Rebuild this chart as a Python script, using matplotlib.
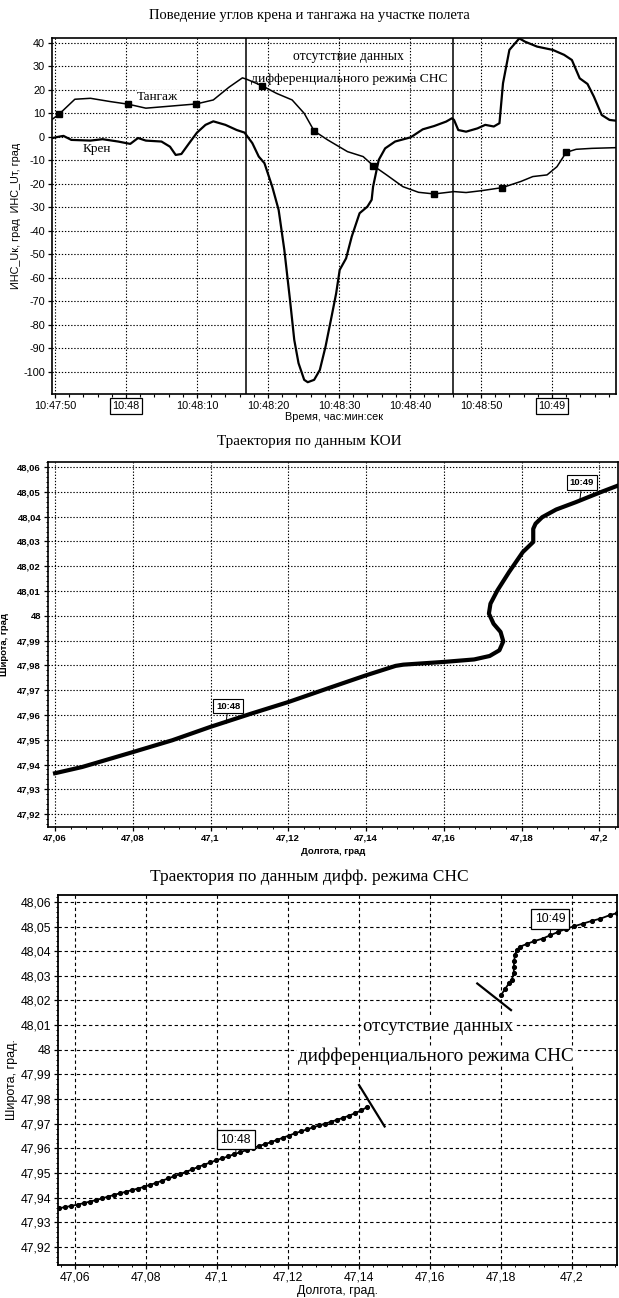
import matplotlib
matplotlib.use("Agg")
import matplotlib.pyplot as plt
from matplotlib.ticker import MultipleLocator

plt.rcParams["axes.unicode_minus"] = False
SANS = ["Liberation Sans", "DejaVu Sans"]
SERIF = ["Liberation Serif", "DejaVu Serif"]
NARROW = ["Liberation Sans Narrow", "Liberation Sans", "DejaVu Sans"]

# ---- roll / pitch, time in seconds after 10:47:50 ----
pitch_t = [-0.5, 0.6, 2.8, 5.0, 7.8, 10.3, 12.8, 15.6, 19.9, 22.3, 24.5, 26.4,
           27.0, 29.2, 31.2, 33.4, 35.1, 36.5, 38.4, 41.2, 43.4, 44.8, 46.7,
           49.0, 51.2, 53.4, 56.2, 57.9, 60.1, 63.0, 65.6, 67.3, 69.3, 70.7,
           72.0, 73.4, 75.6, 79.0]
pitch_v = [7.1, 9.6, 15.9, 16.3, 14.9, 13.8, 12.1, 12.8, 13.9, 15.6, 21.0, 25.0,
           24.4, 21.6, 18.4, 15.6, 9.9, 2.4, -1.4, -6.4, -8.5, -12.3, -16.3,
           -21.3, -23.7, -24.4, -23.4, -23.8, -23.0, -21.7, -19.1, -17.0, -16.3,
           -12.8, -6.7, -5.4, -5.0, -4.7]
pitch_mark_t = [0.6, 10.3, 19.9, 29.2, 36.5, 44.8, 53.4, 63.0, 72.0]
pitch_mark_v = [9.6, 13.8, 13.9, 21.6, 2.4, -12.3, -24.4, -21.7, -6.7]

roll_t = [-0.5, 0.6, 1.2, 2.3, 5.0, 6.7, 8.9, 10.6, 11.7, 12.8, 15.0, 16.2,
          17.0, 17.8, 18.9, 20.0, 21.2, 22.3, 24.0, 25.6, 26.7, 27.8, 28.7,
          29.5, 30.6, 31.5, 31.7, 32.3, 33.1, 33.7, 34.3, 35.1, 35.6, 36.5,
          37.3, 38.1, 39.0, 39.6, 40.1, 41.0, 41.8, 42.9, 44.0, 44.6, 44.8,
          45.6, 46.5, 47.9, 50.1, 51.8, 53.4, 55.1, 55.9, 56.2, 56.8, 57.9,
          59.5, 60.6, 61.8, 62.6, 63.1, 64.0, 65.4, 66.2, 67.9, 70.1, 71.7,
          72.8, 73.9, 75.0, 75.9, 77.0, 78.1, 79.2]
roll_v = [-0.7, 0.0, 0.3, -1.4, -1.7, -1.1, -2.1, -3.1, -0.6, -1.7, -2.1, -4.3,
          -7.8, -7.4, -2.8, 1.7, 5.0, 6.5, 5.0, 2.8, 1.7, -2.8, -8.5,
          -11.3, -21.3, -31.2, -35.4, -48.2, -69.5, -86.5, -96.4, -103.5, -104.5, -103.5,
          -99.3, -89.4, -75.9, -66.7, -56.7, -51.8, -42.5, -32.6, -29.8, -26.9, -21.3,
          -9.9, -5.0, -2.1, -0.3, 3.1, 4.5, 6.4, 7.8, 7.1, 2.8, 2.1,
          3.5, 5.0, 4.3, 5.7, 22.7, 36.9, 41.8, 40.4, 38.3, 36.9, 34.8,
          32.6, 24.8, 22.4, 17.0, 9.2, 7.1, 6.7]

time_ticks = [0, 10, 20, 30, 40, 50, 60, 70]
time_labels = ["10:47:50", "10:48", "10:48:10", "10:48:20",
               "10:48:30", "10:48:40", "10:48:50", "10:49"]
boxed_labels = ["10:48", "10:49"]
gap_bounds = [26.9, 56.1]
angle_ticks = [40, 30, 20, 10, 0, -10, -20, -30, -40, -50, -60, -70, -80, -90, -100]

# ---- trajectory from KOI ----
koi_lon = [47.0595, 47.0670, 47.0800, 47.0902, 47.1000, 47.1104, 47.1200,
           47.1305, 47.1400, 47.1476, 47.1496, 47.1600, 47.1678, 47.1718,
           47.1743, 47.1753, 47.1746, 47.1728, 47.1716, 47.1720, 47.1738,
           47.1768, 47.1803, 47.1830, 47.1830, 47.1836, 47.1853, 47.1889,
           47.1940, 47.2000, 47.2050]
koi_lat = [47.9363, 47.9390, 47.9450, 47.9498, 47.9552, 47.9605, 47.9652,
           47.9709, 47.9760, 47.9798, 47.9803, 47.9814, 47.9824, 47.9838,
           47.9861, 47.9897, 47.9935, 47.9968, 48.0009, 48.0049, 48.0103,
           48.0177, 48.0257, 48.0298, 48.0351, 48.0372, 48.0398, 48.0429,
           48.0459, 48.0497, 48.0527]

# ---- trajectory from differential GNSS (two pieces around the outage) ----
dgps1_lon = [47.0556, 47.0573, 47.0590, 47.0607, 47.0624, 47.0641, 47.0658,
             47.0675, 47.0692, 47.0709, 47.0726, 47.0743, 47.0760, 47.0777,
             47.0794, 47.0811, 47.0828, 47.0845, 47.0862, 47.0879, 47.0896,
             47.0913, 47.0930, 47.0947, 47.0964, 47.0981, 47.0998, 47.1015,
             47.1032, 47.1049, 47.1066, 47.1083, 47.1100, 47.1117, 47.1134,
             47.1151, 47.1168, 47.1185, 47.1202, 47.1219, 47.1236, 47.1253,
             47.1270, 47.1287, 47.1304, 47.1321, 47.1338, 47.1355, 47.1372,
             47.1389, 47.1406, 47.1423]
dgps1_lat = [47.9358, 47.9362, 47.9367, 47.9372, 47.9378, 47.9384, 47.9390,
             47.9397, 47.9404, 47.9411, 47.9418, 47.9424, 47.9431, 47.9437,
             47.9444, 47.9452, 47.9460, 47.9469, 47.9478, 47.9487, 47.9496,
             47.9505, 47.9515, 47.9525, 47.9534, 47.9543, 47.9552, 47.9560,
             47.9568, 47.9577, 47.9585, 47.9593, 47.9601, 47.9609, 47.9617,
             47.9625, 47.9634, 47.9643, 47.9652, 47.9661, 47.9669, 47.9677,
             47.9685, 47.9693, 47.9700, 47.9708, 47.9716, 47.9724, 47.9733,
             47.9743, 47.9754, 47.9768]
dgps2_lon = [47.1800, 47.1811, 47.1822, 47.1830, 47.1836, 47.1836, 47.1837,
             47.1839, 47.1844, 47.1853, 47.1872, 47.1894, 47.1917, 47.1939,
             47.1961, 47.1983, 47.2006, 47.2031, 47.2056, 47.2080, 47.2106,
             47.2128]
dgps2_lat = [48.0222, 48.0246, 48.0269, 48.0285, 48.0310, 48.0337, 48.0361,
             48.0384, 48.0404, 48.0418, 48.0429, 48.0441, 48.0451, 48.0465,
             48.0478, 48.0491, 48.0501, 48.0512, 48.0523, 48.0532, 48.0546,
             48.0555]
break1_lon = [47.1400, 47.1472]
break1_lat = [47.9857, 47.9689]
break2_lon = [47.1733, 47.1828]
break2_lat = [48.0269, 48.0161]

lat_ticks = [48.06, 48.05, 48.04, 48.03, 48.02, 48.01, 48.00,
             47.99, 47.98, 47.97, 47.96, 47.95, 47.94, 47.93, 47.92]
lat_labels = ["48,06", "48,05", "48,04", "48,03", "48,02", "48,01", "48",
              "47,99", "47,98", "47,97", "47,96", "47,95", "47,94", "47,93", "47,92"]
lon_ticks = [47.06, 47.08, 47.10, 47.12, 47.14, 47.16, 47.18, 47.20]
lon_labels = ["47,06", "47,08", "47,1", "47,12", "47,14", "47,16", "47,18", "47,2"]

fig = plt.figure(figsize=(6.19, 12.98), dpi=100)

# ================= roll and pitch =================
ax1 = fig.add_axes([0.084, 0.6965, 0.911, 0.2743])
ax1.plot(roll_t, roll_v, color="black", lw=1.6)
ax1.plot(pitch_t, pitch_v, color="black", lw=1.1)
ax1.plot(pitch_mark_t, pitch_mark_v, "s", color="black", ms=5)
for t in gap_bounds:
    ax1.axvline(t, color="black", lw=1.1)
ax1.set_xlim(-0.42, 79.0)
ax1.set_ylim(-109.5, 42)
ax1.set_xticks(time_ticks)
ax1.set_xticklabels(time_labels, fontsize=7.8, family=SANS)
ax1.xaxis.set_minor_locator(MultipleLocator(2))
ax1.set_yticks(angle_ticks)
ax1.set_yticklabels([str(v) for v in angle_ticks], fontsize=7.8, family=SANS)
for lbl in ax1.get_xticklabels():
    if lbl.get_text() in boxed_labels:
        lbl.set_bbox(dict(boxstyle="square,pad=0.25", fc="white", ec="black", lw=0.9))
ax1.tick_params(axis="both", which="major", direction="out", length=3, width=0.9, pad=2)
ax1.tick_params(axis="x", which="minor", direction="out", length=2, width=0.8)
ax1.grid(True, which="major", color="black", linestyle=(0, (1.2, 1.6)), linewidth=0.8)
for sp in ax1.spines.values():
    sp.set_linewidth(1.2)
ax1.set_xlabel("Время, час:мин:сек", fontsize=7.8, family=SANS, labelpad=1)
ax1.set_ylabel("ИНС_Uк, град  ИНС_Uт, град", fontsize=7.8, family=SANS, labelpad=2)
ax1.text(41.4, 34.0, "отсутствие данных", family=SERIF, fontsize=9.8,
         ha="center", va="center")
ax1.text(41.4, 24.5, "дифференциального режима СНС", family=SERIF, fontsize=9.7,
         ha="center", va="center")
ax1.text(14.5, 17.0, "Тангаж", family=SERIF, fontsize=9.5, ha="center", va="center",
         bbox=dict(fc="white", ec="none", pad=0.5))
ax1.text(5.9, -5.2, "Крен", family=SERIF, fontsize=9.5, ha="center", va="center",
         bbox=dict(fc="white", ec="none", pad=0.5))
fig.text(0.5, 0.988, "Поведение углов крена и тангажа на участке полета",
         family=SERIF, fontsize=10.5, ha="center", va="center")

# ================= KOI trajectory =================
ax2 = fig.add_axes([0.0775, 0.3629, 0.9215, 0.2812])
ax2.plot(koi_lon, koi_lat, color="black", lw=3.0, solid_capstyle="butt")
ax2.set_xlim(47.0582, 47.2049)
ax2.set_ylim(47.9148, 48.0621)
ax2.set_xticks(lon_ticks)
ax2.set_xticklabels(lon_labels, fontsize=6.8, family=NARROW, fontweight="bold")
ax2.set_yticks(lat_ticks)
ax2.set_yticklabels(lat_labels, fontsize=6.8, family=NARROW, fontweight="bold")
ax2.xaxis.set_minor_locator(MultipleLocator(0.004))
ax2.yaxis.set_minor_locator(MultipleLocator(0.002))
ax2.tick_params(axis="both", which="major", direction="out", length=3, width=0.9, pad=2)
ax2.tick_params(axis="both", which="minor", direction="out", length=1.5, width=0.7)
ax2.grid(True, which="major", color="black", linestyle=(0, (1.2, 1.6)), linewidth=0.8)
for sp in ax2.spines.values():
    sp.set_linewidth(1.2)
ax2.set_xlabel("Долгота, град", fontsize=6.8, family=NARROW, fontweight="bold", labelpad=3)
ax2.set_ylabel("Широта, град", fontsize=6.8, family=NARROW, fontweight="bold", labelpad=6)
ax2.annotate("10:48", xy=(47.1040, 47.9565), xytext=(47.1045, 47.9636),
             fontsize=6.8, family=NARROW, fontweight="bold", ha="center", va="center",
             bbox=dict(boxstyle="square,pad=0.3", fc="white", ec="black", lw=0.8),
             arrowprops=dict(arrowstyle="-", lw=0.7, shrinkA=0, shrinkB=0))
ax2.annotate("10:49", xy=(47.1950, 48.0467), xytext=(47.1955, 48.0537),
             fontsize=6.8, family=NARROW, fontweight="bold", ha="center", va="center",
             bbox=dict(boxstyle="square,pad=0.3", fc="white", ec="black", lw=0.8),
             arrowprops=dict(arrowstyle="-", lw=0.7, shrinkA=0, shrinkB=0))
fig.text(0.5, 0.660, "Траектория по данным КОИ", family=SERIF, fontsize=11,
         ha="center", va="center")

# ================= differential GNSS trajectory =================
ax3 = fig.add_axes([0.0937, 0.0254, 0.9033, 0.2851])
ax3.plot(dgps1_lon, dgps1_lat, "o-", color="black", lw=1.3, ms=2.7)
ax3.plot(dgps2_lon, dgps2_lat, "o-", color="black", lw=1.3, ms=2.7)
ax3.plot(break1_lon, break1_lat, color="black", lw=1.6)
ax3.plot(break2_lon, break2_lat, color="black", lw=1.6)
ax3.set_xlim(47.0552, 47.2127)
ax3.set_ylim(47.9127, 48.0628)
ax3.set_xticks(lon_ticks)
ax3.set_xticklabels(lon_labels, fontsize=8.8, family=SANS)
ax3.set_yticks(lat_ticks)
ax3.set_yticklabels(lat_labels, fontsize=8.8, family=SANS)
ax3.xaxis.set_minor_locator(MultipleLocator(0.004))
ax3.yaxis.set_minor_locator(MultipleLocator(0.002))
ax3.tick_params(axis="both", which="major", direction="out", length=3, width=0.9, pad=2)
ax3.tick_params(axis="both", which="minor", direction="out", length=1.5, width=0.7)
ax3.grid(True, which="major", color="black", linestyle=(0, (3, 2.5)), linewidth=0.8)
for sp in ax3.spines.values():
    sp.set_linewidth(1.3)
ax3.set_xlabel("Долгота, град.", fontsize=8.8, family=SANS, labelpad=1)
ax3.set_ylabel("Широта, град.", fontsize=9, family=SANS, labelpad=2)
ax3.text(47.1622, 48.0094, "отсутствие данных", family=SERIF, fontsize=13.3,
         ha="center", va="center", bbox=dict(fc="white", ec="none", pad=0.5))
ax3.text(47.1617, 47.9972, "дифференциального режима СНС", family=SERIF, fontsize=13.8,
         ha="center", va="center", bbox=dict(fc="white", ec="none", pad=0.5))
ax3.annotate("10:48", xy=(47.1053, 47.9582), xytext=(47.1053, 47.9635),
             fontsize=8.8, family=SANS, ha="center", va="center",
             bbox=dict(boxstyle="square,pad=0.3", fc="white", ec="black", lw=0.9),
             arrowprops=dict(arrowstyle="-", lw=0.7, shrinkA=0, shrinkB=0))
ax3.annotate("10:49", xy=(47.1939, 48.0468), xytext=(47.1939, 48.0530),
             fontsize=8.8, family=SANS, ha="center", va="center",
             bbox=dict(boxstyle="square,pad=0.3", fc="white", ec="black", lw=0.9),
             arrowprops=dict(arrowstyle="-", lw=0.7, shrinkA=0, shrinkB=0))
fig.text(0.5, 0.324, "Траектория по данным дифф. режима СНС", family=SERIF,
         fontsize=12.5, ha="center", va="center")

fig.savefig("out.png", dpi=100)
